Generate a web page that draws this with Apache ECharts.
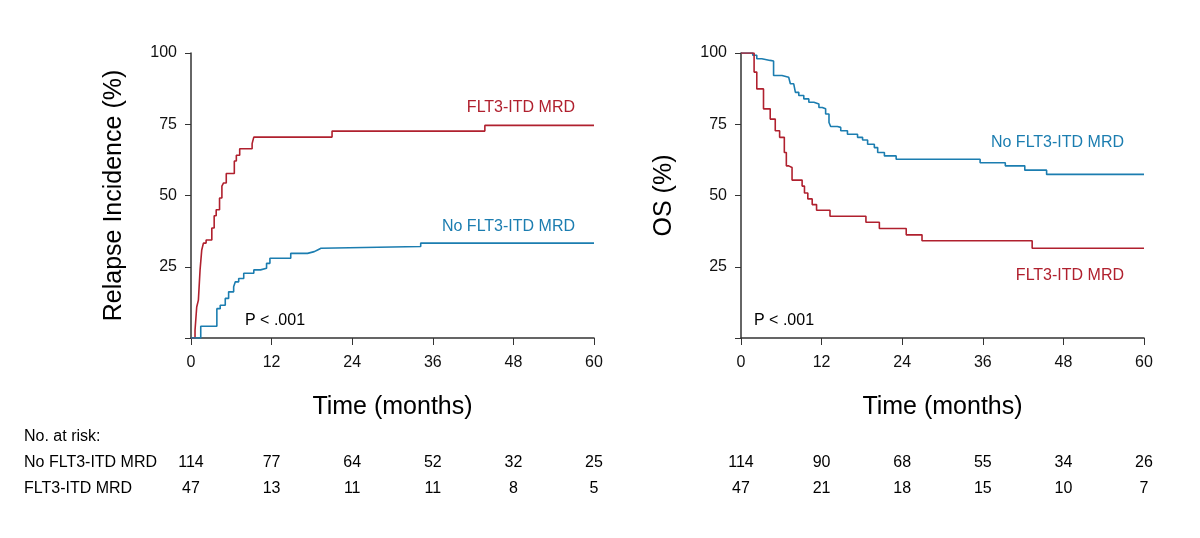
<!DOCTYPE html>
<html>
<head>
<meta charset="utf-8">
<script src="https://cdn.jsdelivr.net/npm/echarts@6/dist/echarts.min.js"></script>
<style>html,body{margin:0;background:#fff}#c{width:1200px;height:538px}</style>
</head>
<body>
<div id="c"></div>
<script>
// relapse incidence (left), months / percent
const riMrd = [[0,0],[0.6,2.7],[0.85,10.9],[1.1,13.3],[1.35,23.9],[1.6,30.9],[1.85,33.3],[2.25,34.4],[3.1,38.6],[3.45,42.9],[3.75,45],[4.25,49.1],[4.6,53.3],[4.85,54.4],[5.25,57.7],[6.45,62.1],[6.75,64.1],[7.25,66.4],[9.1,68.2],[9.35,70.5],[21,72.6],[43.75,74.6],[60,74.6]]
const riNoMrd = [[0,0],[1.1,0],[1.45,4.1],[3.85,10.3],[4.35,11.5],[5.1,13.9],[5.6,16.2],[6.35,18],[6.6,19.7],[7.1,20.9],[7.85,22.7],[9.35,23.9],[10.35,24.5],[11.25,26.2],[11.75,28],[14.85,29.7],[17.35,30.3],[18.35,30.9],[18.85,31.5],[19.35,32.1],[34.2,33.3],[60,33.3]]
// overall survival (right)
const osNoMrd = [[0,100],[1.75,99.2],[2.35,98],[3.1,97.4],[4.35,97.2],[4.85,92.1],[6.1,91.5],[7.1,90.9],[7.35,89.2],[7.85,88.6],[8.1,86.2],[8.6,85.1],[9.35,83.9],[10.1,82.7],[10.85,82.1],[11.6,80.9],[12.1,80.4],[12.6,78.6],[13.1,75.6],[13.35,74.2],[14.35,73.9],[14.85,72.7],[15.85,71.5],[17.35,70.4],[18.1,69.5],[18.85,68],[19.85,66.8],[20.35,65.1],[21.35,63.9],[23.1,62.7],[35.6,61.5],[39.35,60.4],[42.25,58.9],[45.5,57.4],[60,57.4]]
const osMrd = [[0,100],[1.95,93.3],[2.35,87.4],[3.35,80.4],[4.35,76.8],[5.1,72.7],[5.75,70.4],[6.45,65.1],[6.75,60.4],[7.1,59.8],[7.6,55.4],[9.1,53.3],[9.45,50.9],[9.95,48.8],[10.6,46.8],[11.25,44.8],[13.25,42.7],[18.6,40.6],[20.6,38.4],[24.6,36.2],[26.95,34.1],[43.35,31.5],[60,31.5]]
const riskTimes = [0,12,24,36,48,60]
const riskRiNo = [114,77,64,52,32,25]
const riskRiMrd = [47,13,11,11,8,5]
const riskOsNo = [114,90,68,55,34,26]
const riskOsMrd = [47,21,18,15,10,7]

const RED = '#b0202e', BLUE = '#1b7db0'
const F = 'Liberation Sans, Arial, sans-serif'

const xAx = i => ({
  gridIndex: i, type: 'value', min: 0, max: 60, interval: 12,
  name: 'Time (months)', nameLocation: 'middle', nameGap: 57,
  nameTextStyle: { fontSize: 25, color: '#000', fontFamily: F },
  axisLine: { lineStyle: { color: '#333', width: 1.5 } },
  axisTick: { length: 7, lineStyle: { color: '#333' } },
  axisLabel: { fontSize: 16, color: '#111', margin: 17, fontFamily: F },
  splitLine: { show: false }
})
const yAx = (i, name) => ({
  gridIndex: i, type: 'value', min: 0, max: 100, interval: 25,
  name, nameLocation: 'middle', nameGap: 64,
  nameTextStyle: { fontSize: 25, color: '#000', fontFamily: F },
  axisLine: { show: true, lineStyle: { color: '#333', width: 1.5 } },
  axisTick: { show: true, length: 6, lineStyle: { color: '#333' } },
  axisLabel: { fontSize: 16, color: '#111', margin: 14, fontFamily: F,
    formatter: v => v === 0 ? '' : v },
  splitLine: { show: false }
})
const line = (i, data, color) => ({
  type: 'line', xAxisIndex: i, yAxisIndex: i, data, step: 'end',
  showSymbol: false, lineStyle: { color, width: 1.6 }, animation: false
})
const txt = (x, y, text, color, align) => ({
  type: 'text', x, y, style: { text, fill: color || '#000', fontSize: 16, fontFamily: F, align: align || 'left', verticalAlign: 'middle' }
})

let chart = echarts.init(document.getElementById('c'))
chart.setOption({
  animation: false,
  grid: [
    { left: 191, right: 606, top: 53, bottom: 200 },
    { left: 741, right: 56, top: 53, bottom: 200 }
  ],
  xAxis: [xAx(0), xAx(1)],
  yAxis: [yAx(0, 'Relapse Incidence (%)'), yAx(1, 'OS (%)')],
  series: [
    line(0, riMrd, RED), line(0, riNoMrd, BLUE),
    line(1, osNoMrd, BLUE), line(1, osMrd, RED)
  ]
})

const g = [
  txt(575, 108, 'FLT3-ITD MRD', RED, 'right'),
  txt(575, 227, 'No FLT3-ITD MRD', BLUE, 'right'),
  txt(245, 321, 'P < .001'),
  txt(1124, 143, 'No FLT3-ITD MRD', BLUE, 'right'),
  txt(1124, 276, 'FLT3-ITD MRD', RED, 'right'),
  txt(754, 321, 'P < .001'),
  txt(24, 437, 'No. at risk:'),
  txt(24, 463, 'No FLT3-ITD MRD'),
  txt(24, 489, 'FLT3-ITD MRD')
]
const rows = [[0, riskRiNo, 463], [0, riskRiMrd, 489], [1, riskOsNo, 463], [1, riskOsMrd, 489]]
rows.forEach(([gi, vals, y]) => {
  riskTimes.forEach((t, k) => {
    const x = chart.convertToPixel({ xAxisIndex: gi }, t)
    g.push(txt(x, y, String(vals[k]), '#000', 'center'))
  })
})
chart.setOption({ graphic: g })
window.onresize = () => { chart.resize() }
</script>
</body>
</html>
